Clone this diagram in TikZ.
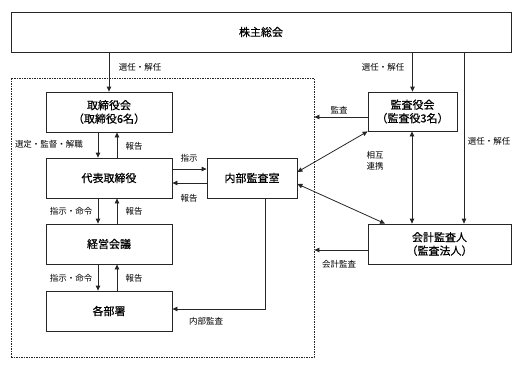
\documentclass[tikz,border=0pt]{standalone}
\usepackage{fontspec}
\newfontfamily\jp{Noto Sans CJK JP}
\newfontfamily\jpb[FakeBold=0.6]{Noto Sans CJK JP}
\usetikzlibrary{arrows.meta}
\tikzset{
  box/.style={draw=black!85, line width=0.8pt, fill=white, font=\jpb\fontsize{11}{13.5}\selectfont, align=center, inner sep=0pt},
  lbl/.style={font=\jp\fontsize{8.5}{11}\selectfont, inner sep=0pt, align=center},
  arr/.style={draw=black!85, line width=0.8pt, -{Triangle[length=5pt,width=4.5pt]}},
  darr/.style={draw=black!85, line width=0.8pt, {Triangle[length=5pt,width=4.5pt]}-{Triangle[length=5pt,width=4.5pt]}},
  grpbox/.style={draw=black!85, line width=0.8pt, dash pattern=on 1.5pt off 1pt, inner sep=0pt}
}
\begin{document}
\begin{tikzpicture}[x=1pt,y=-1pt]
\useasboundingbox (0,0) rectangle (522,368);
\node[grpbox, minimum width=303pt, minimum height=279pt] (grp) at (162.5,217.5) {};
\node[box, minimum width=500pt, minimum height=40pt] (top) at (261,32) {株主総会};
\node[box, minimum width=126pt, minimum height=40pt] (tori) at (109,112) {取締役会\\（取締役6名）};
\node[box, minimum width=126pt, minimum height=40pt] (daihyo) at (109,178) {代表取締役};
\node[box, minimum width=126pt, minimum height=40pt] (keiei) at (109,244) {経営会議};
\node[box, minimum width=126pt, minimum height=40pt] (busho) at (109,311) {各部署};
\node[box, minimum width=90pt, minimum height=40pt] (naibu) at (252,178) {内部監査室};
\node[box, minimum width=89pt, minimum height=39pt] (kansa) at (412.5,111.5) {監査役会\\（監査役3名）};
\node[box, minimum width=143pt, minimum height=40pt] (kaikei) at (439.5,244) {会計監査人\\（監査法人）};

\draw[arr] (top.south -| tori.north) -- (tori.north);
\draw[arr] (top.south -| kansa.north) -- (kansa.north);
\coordinate (kk) at ([xshift=24.5pt]kaikei.north);
\draw[arr] (top.south -| kk) -- (kk);

\draw[arr] ([xshift=-11pt]tori.south) -- ([xshift=-11pt]daihyo.north);
\draw[arr] ([xshift=8pt]daihyo.north) -- ([xshift=8pt]tori.south);
\draw[arr] ([xshift=-11pt]daihyo.south) -- ([xshift=-11pt]keiei.north);
\draw[arr] ([xshift=8pt]keiei.north) -- ([xshift=8pt]daihyo.south);
\draw[arr] ([xshift=-11pt]keiei.south) -- ([xshift=-11pt]busho.north);
\draw[arr] ([xshift=8pt]busho.north) -- ([xshift=8pt]keiei.south);

\draw[arr] ([yshift=9pt]daihyo.east) -- ([yshift=9pt]naibu.west);
\draw[arr] ([yshift=-5pt]naibu.west) -- ([yshift=-5pt]daihyo.east);

\coordinate (na) at ([xshift=13pt]naibu.south);
\draw[arr] (na) |- ([yshift=2pt]busho.east);

\coordinate (ka) at ([yshift=-5.5pt]kansa.west);
\draw[arr] (ka) -- (grp.east |- ka);
\coordinate (kw) at ([yshift=-6pt]kaikei.west);
\draw[arr] (kw) -- (grp.east |- kw);

\draw[darr] ([xshift=-0.5pt]kansa.south) -- ([xshift=-27.5pt]kaikei.north);
\draw[darr] ([yshift=6pt]naibu.east) -- (kansa.south west);
\draw[darr] ([yshift=-6pt]naibu.east) -- ([xshift=-54.5pt]kaikei.north);

\node[lbl] (l1) at (140,67) {選任・解任};
\node[lbl] (l2) at (383,67) {選任・解任};
\node[lbl] (l3) at (339,110) {監査};
\node[lbl] (l4) at (49,144) {選定・監督・解職};
\node[lbl] (l5) at (134,146) {報告};
\node[lbl] (l6) at (189,158) {指示};
\node[lbl] (l7) at (189,198) {報告};
\node[lbl] (l8) at (71,211) {指示・命令};
\node[lbl] (l9) at (134,211) {報告};
\node[lbl] (l10) at (71,278) {指示・命令};
\node[lbl] (l11) at (134,278) {報告};
\node[lbl] (l12) at (206,321) {内部監査};
\node[lbl] (l13) at (375,161) {相互\\連携};
\node[lbl] (l14) at (489,141) {選任・解任};
\node[lbl] (l15) at (339,264) {会計監査};
\end{tikzpicture}
\end{document}
